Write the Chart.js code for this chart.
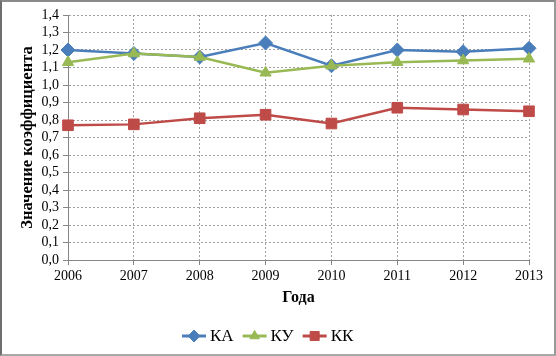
<!DOCTYPE html>
<html><head><meta charset="utf-8">
<script src="https://cdn.jsdelivr.net/npm/chart.js@4"></script>
<style>
html,body{margin:0;padding:0;background:#fff;}
#wrap{position:relative;width:556px;height:356px;box-sizing:border-box;border-left:2px solid #6e6e6e;border-top:2px solid #8a8a8a;border-right:2px solid #9a9a9a;border-bottom:2px solid #a8a8a8;}
#wrap canvas{position:absolute;left:-2px;top:-2px;}
</style></head>
<body><div id="wrap"><canvas id="c" width="556" height="356"></canvas></div>
<script>
const years = ['2006','2007','2008','2009','2010','2011','2012','2013'];
const seriesKA = [1.20, 1.18, 1.16, 1.24, 1.11, 1.20, 1.19, 1.21];
const seriesKU = [1.13, 1.18, 1.16, 1.07, 1.11, 1.13, 1.14, 1.15];
const seriesKK = [0.77, 0.775, 0.81, 0.83, 0.78, 0.87, 0.86, 0.85];
const seriesNames = ['КА', 'КУ', 'КК'];
const xTitle = 'Года';
const yTitle = 'Значение коэффициента';

const FONT = '"Liberation Serif","Times New Roman",serif';
const colors = ['#4a7ebb', '#98b954', '#be4b48'];
const styles = ['rectRot', 'triangle', 'rect'];
const radii = [7, 6.5, 7.5];

const legendPlugin = {
  id: 'customLegend',
  afterDraw(chart) {
    const ctx = chart.ctx;
    const ds = chart.data.datasets;
    ctx.save();
    ctx.font = '17px ' + FONT;
    ctx.textBaseline = 'middle';
    const y = 336, lineW = 24, gap = 4, itemGap = 9;
    let x = 182;
    ds.forEach((d) => {
      ctx.strokeStyle = d.borderColor; ctx.lineWidth = 3;
      ctx.beginPath(); ctx.moveTo(x, y); ctx.lineTo(x + lineW, y); ctx.stroke();
      ctx.fillStyle = d.pointBackgroundColor; ctx.strokeStyle = d.pointBorderColor; ctx.lineWidth = 1;
      Chart.helpers.drawPoint(ctx, {pointStyle: d.pointStyle, radius: d.pointRadius * 0.85, borderWidth: 1, rotation: 0}, x + lineW / 2, y);
      ctx.fillStyle = '#000'; ctx.textAlign = 'left';
      ctx.fillText(d.label, x + lineW + gap, y + 1);
      x += lineW + gap + ctx.measureText(d.label).width + itemGap;
    });
    ctx.restore();
  }
};

const allSeries = [seriesKA, seriesKU, seriesKK];
new Chart(document.getElementById('c'), {
  type: 'line',
  data: {
    labels: years,
    datasets: allSeries.map((s, i) => ({
      label: seriesNames[i],
      data: s,
      borderColor: colors[i],
      backgroundColor: colors[i],
      pointBackgroundColor: colors[i],
      pointBorderColor: colors[i],
      borderWidth: 2.5,
      pointStyle: styles[i],
      pointRadius: radii[i],
      pointBorderWidth: 1,
      tension: 0,
      order: 3 - i
    }))
  },
  options: {
    responsive: false,
    animation: false,
    devicePixelRatio: 1,
    layout: { padding: { left: 10, top: 15, right: 27, bottom: 40 } },
    plugins: { legend: { display: false }, tooltip: { enabled: false } },
    scales: {
      x: {
        offset: false,
        grid: { color: '#a0a0a0', tickLength: 5, drawTicks: true, tickColor: '#868686' },
        border: { display: true, color: '#868686', width: 1, dash: [2, 2] },
        ticks: { color: '#000', font: { family: FONT, size: 14 }, padding: 3, maxRotation: 0, autoSkip: false },
        title: { display: true, text: xTitle, color: '#000', font: { family: FONT, size: 16, weight: 'bold' }, padding: { top: 0, bottom: 9 } },
        afterFit(scale) { scale.height = 56; }
      },
      y: {
        min: 0, max: 1.4,
        grid: { color: '#a0a0a0', tickLength: 5, tickColor: '#868686' },
        border: { display: true, color: '#868686', width: 1, dash: [2, 2] },
        ticks: { stepSize: 0.1, autoSkip: false, color: '#000', font: { family: FONT, size: 14 }, padding: 4,
          callback: v => v.toFixed(1).replace('.', ',') },
        title: { display: true, text: yTitle, color: '#000', font: { family: FONT, size: 16.5, weight: 'bold' }, padding: { top: 8, bottom: 0 } },
        afterFit(scale) { scale.width = 58; }
      }
    }
  },
  plugins: [legendPlugin]
});
</script>
</body></html>
